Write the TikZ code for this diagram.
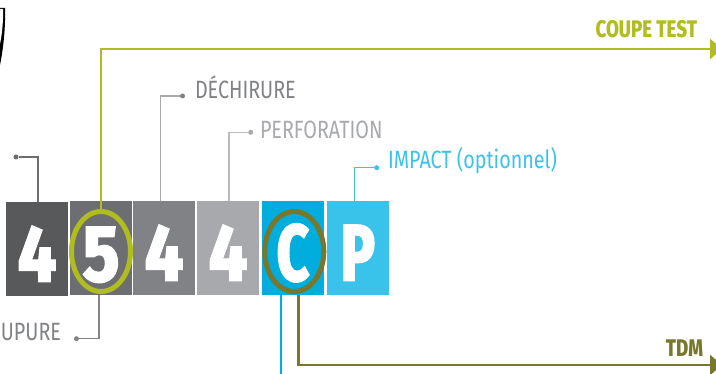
\documentclass[tikz,border=0pt]{standalone}
\usepackage{fontspec}
\setmainfont{Liberation Sans}
\newfontfamily\lightcond[FakeStretch=0.79]{Fira Sans}
\newfontfamily\boldcond[FakeStretch=0.78]{Fira Sans ExtraBold}
\newfontfamily\digitfont[FakeStretch=0.84,FakeBold=1.2]{Fira Sans ExtraBold}
\newfontfamily\letterfont[FakeStretch=0.7,FakeBold=1.2]{Fira Sans ExtraBold}
\usetikzlibrary{shapes.geometric,arrows.meta}
\definecolor{cA}{HTML}{58595B}
\definecolor{cB}{HTML}{6D6E71}
\definecolor{cC}{HTML}{808285}
\definecolor{cD}{HTML}{A7A9AC}
\definecolor{cE}{HTML}{00ADDC}
\definecolor{cF}{HTML}{3AC3EA}
\definecolor{cG}{HTML}{AFBD21}
\definecolor{cH}{HTML}{77782E}
\tikzset{
  digitbox/.style={rectangle,minimum width=62pt,minimum height=94pt,inner sep=0pt,outer sep=0pt,text=white,font=\digitfont\fontsize{81}{81}\selectfont,text height=66pt,text depth=0pt},
  letterbox/.style={digitbox,font=\letterfont\fontsize{81}{81}\selectfont},
  label/.style={inner sep=0pt,outer sep=0pt,font=\lightcond\fontsize{25}{25}\selectfont,text height=18pt,text depth=0pt},
  headlabel/.style={inner sep=0pt,outer sep=0pt,font=\boldcond\fontsize{24}{24}\selectfont,text height=17pt,text depth=0pt},
  dotnode/.style={circle,inner sep=0pt,outer sep=0pt,minimum size=5pt},
  ring/.style={ellipse,inner sep=0pt,outer sep=0pt,line width=5pt,minimum width=59pt,minimum height=80pt},
  leader/.style={line width=1.3pt},
  mainline/.style={line width=2.8pt,-{Triangle[length=12pt,width=20pt]}}
}
\begin{document}
\begin{tikzpicture}[x=1pt,y=-1pt]
\useasboundingbox (0,0) rectangle (716,374);
\clip (0,0) rectangle (716,374);
\fill[black] (0,8) -- (5,8) .. controls (5.6,30) and (3,50) .. (0,65) -- cycle;
\fill[white] (0,9) -- (3,9) .. controls (3.5,20) and (2,35) .. (0,44) -- cycle;
\node[digitbox,fill=cA] (b1) at (37,249) {4};
\node[digitbox,fill=cB] (b2) at (101,248.5) {5};
\node[digitbox,fill=cC] (b3) at (164,248) {4};
\node[digitbox,fill=cD] (b4) at (228,248) {4};
\node[letterbox,fill=cE] (b5) at (293,248) {C};
\node[letterbox,fill=cF] (b6) at (358,248) {P};
\node[ring,draw=cG] (e1) at (101,251.5) {};
\node[ring,draw=cH] (e2) at (294.3,251.5) {};
\node[dotnode,fill=cB] (d1) at (16,157) {};
\node[dotnode,fill=cC] (d2) at (76.5,338.7) {};
\node[dotnode,fill=cC] (d3) at (182.5,96) {};
\node[dotnode,fill=cD] (d4) at (250.7,132.3) {};
\node[dotnode,fill=cF] (d5) at (376.7,167.7) {};
\node[label,text=cC,anchor=east] (t2) at (61,332) {COUPURE};
\node[label,text=cC,anchor=west] (t3) at (195,90) {DÉCHIRURE};
\node[label,text=cD,anchor=west] (t4) at (260,130) {PERFORATION};
\node[label,text=cF,anchor=west] (t5) at (388,160) {IMPACT (optionnel)};
\node[headlabel,text=cG,anchor=east] (t6) at (697,29) {COUPE TEST};
\node[headlabel,text=cH,anchor=east] (t7) at (703,348) {TDM};
\coordinate (endG) at (722,49);
\coordinate (endH) at (722,365);
\coordinate (endB) at (281,374);
\draw[leader,cB] ([xshift=1]b1.north) |- (d1);
\draw[leader,cC] ([xshift=-2]b2.south) |- (d2);
\draw[leader,cD] ([xshift=-3.5]b3.north) |- (d3);
\draw[leader,cD!80!white] ([xshift=1]b4.north) |- (d4);
\draw[leader,cF] ([xshift=-3.3]b6.north) |- (d5);
\draw[leader,cE] ([xshift=-12]b5.south) -- (endB);
\draw[mainline,cG] (e1.north) |- (endG);
\draw[mainline,cH] ([xshift=5.7]b5.south) |- (endH);
\end{tikzpicture}
\end{document}
